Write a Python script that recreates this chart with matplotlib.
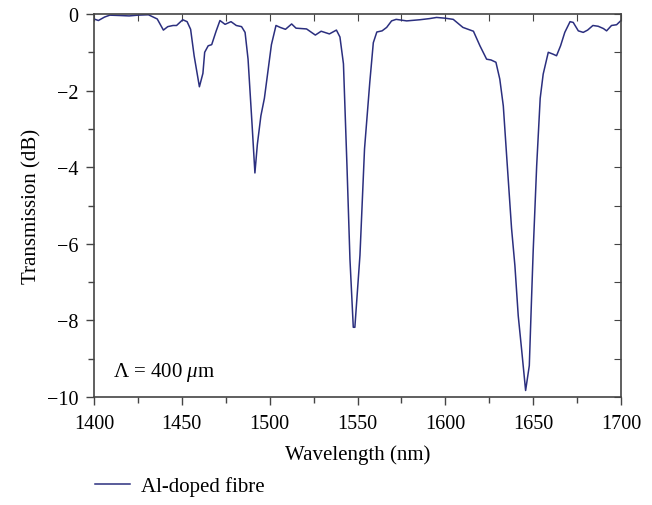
import matplotlib
matplotlib.use('Agg')
import matplotlib.pyplot as plt
from matplotlib.ticker import MultipleLocator

plt.rcParams['font.family'] = ['Liberation Serif', 'DejaVu Serif']
plt.rcParams['mathtext.fontset'] = 'custom'
plt.rcParams['mathtext.it'] = 'Liberation Serif:italic'
plt.rcParams['mathtext.rm'] = 'Liberation Serif'

# transmission spectrum
wavelength = [1400, 1402.5, 1406, 1409, 1415, 1420, 1425, 1431, 1436, 1439.5, 1442, 1445,
              1447, 1450.5, 1453, 1455, 1457, 1460, 1462, 1463, 1465, 1467, 1469.5,
              1471.7, 1474.6, 1478, 1481, 1484, 1486, 1487.7, 1490, 1491.6, 1493, 1495,
              1497, 1499, 1501, 1503.6, 1506, 1509, 1512.5, 1515, 1521, 1526, 1529.3,
              1534, 1538, 1540, 1542, 1544, 1545.7, 1547.6, 1548.5, 1551.4, 1554, 1557,
              1559, 1561, 1564, 1566.6, 1569.4, 1572, 1578, 1585.5, 1591, 1595, 1600,
              1604.5, 1610, 1616, 1619.7, 1623.5, 1626, 1628.8, 1631, 1633, 1635,
              1637.7, 1639.6, 1641.5, 1643.4, 1645.7, 1647.8, 1649, 1650, 1652, 1654,
              1655.7, 1658.6, 1661.4, 1663.3, 1665.6, 1668, 1671, 1672.8, 1675.7,
              1678.5, 1681, 1684, 1687, 1690, 1691.8, 1694.6, 1697.5, 1700]
transmission = [-0.13, -0.17, -0.08, -0.03, -0.04, -0.05, -0.03, -0.02, -0.13, -0.42, -0.33, -0.3,
                -0.3, -0.15, -0.2, -0.4, -1.09, -1.9, -1.55, -1.0, -0.83, -0.8, -0.45,
                -0.17, -0.27, -0.2, -0.3, -0.33, -0.48, -1.18, -2.9, -4.15, -3.4, -2.66,
                -2.2, -1.5, -0.8, -0.3, -0.35, -0.4, -0.26, -0.37, -0.39, -0.55, -0.45,
                -0.52, -0.42, -0.6, -1.3, -3.96, -6.4, -8.18, -8.18, -6.3, -3.52, -1.78,
                -0.75, -0.47, -0.44, -0.35, -0.18, -0.14, -0.18, -0.15, -0.12, -0.09, -0.11,
                -0.14, -0.35, -0.45, -0.83, -1.18, -1.2, -1.26, -1.7, -2.4, -3.77,
                -5.6, -6.57, -7.88, -8.75, -9.83, -9.18, -7.53, -6.2, -3.96, -2.2,
                -1.57, -1.0, -1.05, -1.09, -0.83, -0.48, -0.2, -0.22, -0.44,
                -0.48, -0.42, -0.3, -0.32, -0.38, -0.44, -0.3, -0.28, -0.17]

fig = plt.figure(figsize=(6.52, 5.06), dpi=100)
ax = fig.add_axes([94/652, 1 - 398/506, 527/652, 383/506])
ax.plot(wavelength, transmission, color='#2b2f7f', lw=1.1, label='Al-doped fibre')

ax.set_xlim(1400, 1700)
ax.set_ylim(-10, 0)
ax.xaxis.set_major_locator(MultipleLocator(50))
ax.xaxis.set_minor_locator(MultipleLocator(25))
ax.yaxis.set_major_locator(MultipleLocator(2))
ax.yaxis.set_minor_locator(MultipleLocator(1))
ax.set_yticks([0, -2, -4, -6, -8, -10])
ax.set_yticklabels(['0', '\u22122', '\u22124', '\u22126', '\u22128', '\u221210'])

for s in ax.spines.values():
    s.set_color('#444444')
    s.set_linewidth(1.2)

ax.tick_params(which='both', direction='out', labelsize=14.5, width=1, color='#444444')
ax.tick_params(which='major', length=6)
ax.tick_params(which='minor', length=4)
ax.tick_params(axis='x', pad=6)
ax.tick_params(axis='y', pad=5)

# inward ticks on top and right
ax_top = ax.secondary_xaxis('top')
ax_top.xaxis.set_major_locator(MultipleLocator(25))
ax_top.tick_params(direction='in', length=5, labeltop=False, color='#444444')
ax_right = ax.secondary_yaxis('right')
ax_right.yaxis.set_major_locator(MultipleLocator(1))
ax_right.tick_params(direction='in', length=5, labelright=False, color='#444444')
for a in (ax_top, ax_right):
    for s in a.spines.values():
        s.set_visible(False)

ax.set_xlabel('Wavelength (nm)', fontsize=15, labelpad=8)
ax.set_ylabel('Transmission (dB)', fontsize=15, labelpad=4)
ax.text(0.036, 0.055, '\u039b = 400 $\\mu$m', transform=ax.transAxes, fontsize=15)

fig.legend(loc='center left', bbox_to_anchor=(76/652, 1 - 487/506), frameon=False,
           fontsize=15, handlelength=1.7, handletextpad=0.5)

fig.savefig('out.png', dpi=100)
